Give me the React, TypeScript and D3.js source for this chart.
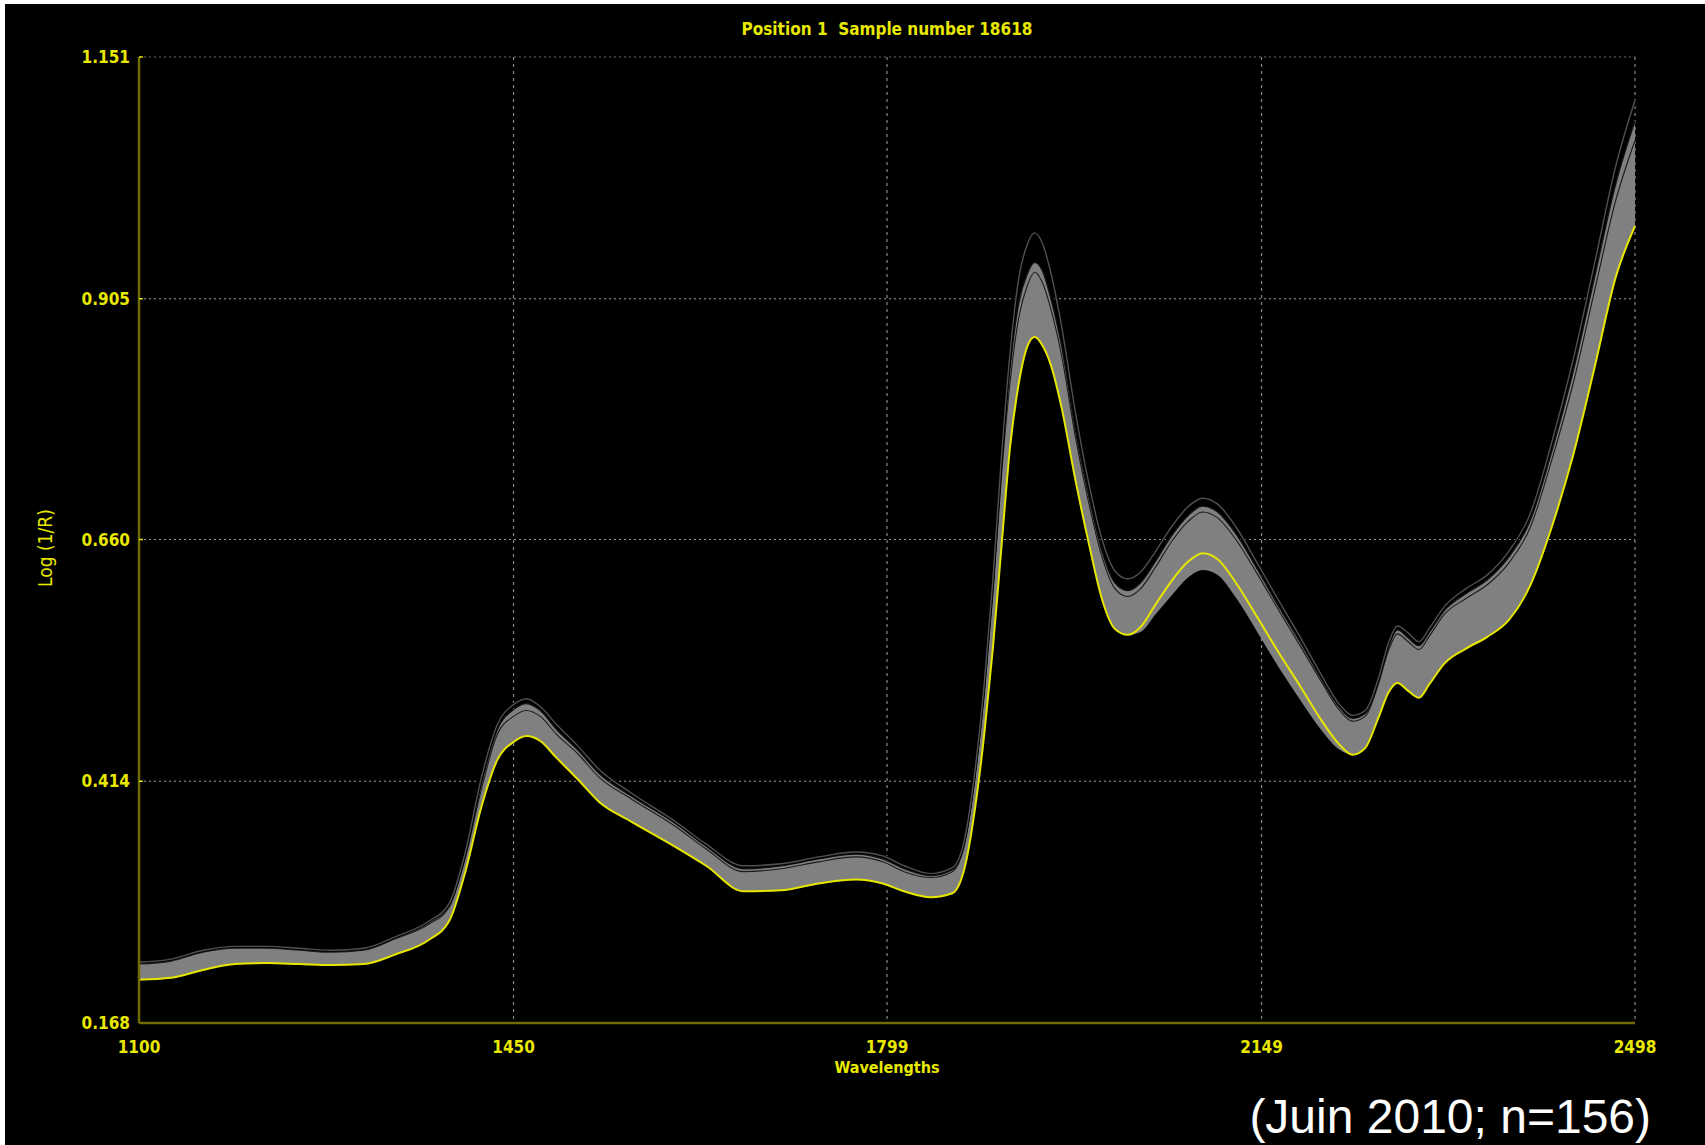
import React, { useEffect, useRef } from 'react';
import * as d3 from 'd3';

// wavelength grid (nm) the curves were read at
const wavelengths = [
  1100, 1130, 1160, 1190, 1220, 1250, 1280, 1310, 1340, 1370,
  1390, 1405, 1420, 1435, 1450, 1462, 1475, 1490, 1510, 1530,
  1560, 1600, 1630, 1665, 1700, 1735, 1770, 1795, 1815, 1840,
  1860, 1872, 1882, 1890, 1898, 1906, 1914, 1922, 1930, 1937,
  1944, 1952, 1962, 1975, 1988, 2000, 2012, 2024, 2036, 2050,
  2065, 2080, 2094, 2108, 2125, 2145, 2165, 2185, 2205, 2222,
  2234, 2246, 2258, 2268, 2276, 2286, 2296, 2306, 2320, 2340,
  2360, 2380, 2400, 2420, 2440, 2460, 2480, 2498,
];

// highlighted spectrum (sample 18618, yellow)
const sample18618 = [
  0.212, 0.214, 0.222, 0.228, 0.229, 0.228, 0.227, 0.228, 0.238, 0.252,
  0.272, 0.322, 0.388, 0.436, 0.454, 0.460, 0.455, 0.438, 0.416, 0.393,
  0.373, 0.348, 0.328, 0.302, 0.303, 0.310, 0.314, 0.310, 0.302, 0.296,
  0.300, 0.328, 0.392, 0.463, 0.550, 0.653, 0.754, 0.818, 0.856, 0.866,
  0.858, 0.838, 0.795, 0.721, 0.654, 0.599, 0.569, 0.563, 0.571, 0.594,
  0.618, 0.637, 0.646, 0.640, 0.616, 0.581, 0.545, 0.511, 0.476, 0.451,
  0.441, 0.448, 0.478, 0.505, 0.514, 0.506, 0.499, 0.513, 0.534, 0.549,
  0.561, 0.578, 0.613, 0.672, 0.745, 0.834, 0.927, 0.979,
];

// lower edge of the 156 spectra band
const bandLow = [
  0.212, 0.214, 0.222, 0.228, 0.229, 0.228, 0.227, 0.228, 0.238, 0.252,
  0.272, 0.322, 0.388, 0.436, 0.454, 0.460, 0.455, 0.438, 0.416, 0.393,
  0.373, 0.348, 0.328, 0.302, 0.303, 0.310, 0.314, 0.310, 0.302, 0.296,
  0.300, 0.328, 0.392, 0.463, 0.550, 0.653, 0.754, 0.818, 0.856, 0.866,
  0.858, 0.838, 0.795, 0.721, 0.654, 0.599, 0.569, 0.563, 0.566, 0.584,
  0.603, 0.621, 0.629, 0.624, 0.601, 0.566, 0.530, 0.497, 0.466, 0.446,
  0.441, 0.448, 0.478, 0.505, 0.514, 0.506, 0.499, 0.513, 0.534, 0.549,
  0.561, 0.578, 0.613, 0.672, 0.745, 0.834, 0.927, 0.979,
];

// upper edge of the dense part of the band
const bandHigh = [
  0.228, 0.231, 0.240, 0.244, 0.244, 0.242, 0.240, 0.242, 0.254, 0.268,
  0.286, 0.336, 0.406, 0.462, 0.480, 0.486, 0.480, 0.462, 0.442, 0.418,
  0.396, 0.369, 0.345, 0.322, 0.325, 0.332, 0.337, 0.332, 0.322, 0.316,
  0.322, 0.352, 0.425, 0.505, 0.605, 0.725, 0.820, 0.885, 0.918, 0.932,
  0.922, 0.895, 0.848, 0.765, 0.695, 0.642, 0.610, 0.602, 0.610, 0.632,
  0.658, 0.678, 0.688, 0.682, 0.660, 0.625, 0.588, 0.552, 0.515, 0.486,
  0.475, 0.480, 0.512, 0.548, 0.564, 0.556, 0.548, 0.562, 0.584, 0.600,
  0.614, 0.636, 0.672, 0.740, 0.818, 0.912, 1.005, 1.066,
];

// the two spectra that stand out above the band
const outlierA = [
  0.230, 0.233, 0.242, 0.246, 0.246, 0.244, 0.242, 0.244, 0.256, 0.271,
  0.290, 0.342, 0.418, 0.472, 0.492, 0.498, 0.490, 0.472, 0.450, 0.426,
  0.402, 0.374, 0.350, 0.328, 0.330, 0.337, 0.342, 0.338, 0.328, 0.320,
  0.326, 0.358, 0.432, 0.515, 0.620, 0.745, 0.850, 0.925, 0.960, 0.972,
  0.962, 0.932, 0.878, 0.790, 0.715, 0.660, 0.628, 0.620, 0.627, 0.648,
  0.673, 0.693, 0.702, 0.696, 0.673, 0.636, 0.598, 0.561, 0.522, 0.492,
  0.481, 0.486, 0.518, 0.556, 0.572, 0.565, 0.556, 0.570, 0.592, 0.610,
  0.624, 0.648, 0.686, 0.758, 0.842, 0.940, 1.040, 1.107,
];

const outlierB = [
  0.229, 0.232, 0.241, 0.245, 0.245, 0.243, 0.241, 0.243, 0.255, 0.270,
  0.288, 0.339, 0.412, 0.467, 0.487, 0.493, 0.486, 0.467, 0.446, 0.422,
  0.399, 0.372, 0.348, 0.325, 0.328, 0.335, 0.340, 0.335, 0.325, 0.318,
  0.324, 0.355, 0.428, 0.510, 0.612, 0.735, 0.835, 0.900, 0.930, 0.942,
  0.934, 0.906, 0.858, 0.772, 0.702, 0.648, 0.616, 0.608, 0.616, 0.638,
  0.664, 0.684, 0.694, 0.688, 0.666, 0.630, 0.592, 0.556, 0.518, 0.489,
  0.478, 0.483, 0.515, 0.552, 0.568, 0.560, 0.552, 0.566, 0.588, 0.605,
  0.619, 0.642, 0.679, 0.749, 0.830, 0.926, 1.022, 1.086,
];

const xTicks = [1100, 1450, 1799, 2149, 2498];
const yTicks = [0.168, 0.414, 0.66, 0.905, 1.151];
const yTickLabels = ['0.168', '0.414', '0.660', '0.905', '1.151'];

const W = 1705;
const H = 1145;
const pixelFont = '"DejaVu Sans Condensed", "DejaVu Sans", sans-serif';

export default function App() {
  const svgRef = useRef<SVGSVGElement>(null);

  useEffect(() => {
    if (!svgRef.current) return;
    const svg = d3.select(svgRef.current);
    svg.selectAll('*').remove();

    const margin = { top: 57, right: 70, bottom: 122, left: 139 };
    const width = W - margin.left - margin.right;
    const height = H - margin.top - margin.bottom;

    // white strip on top/left, black canvas
    svg.append('rect').attr('width', W).attr('height', H).attr('fill', '#ffffff');
    svg.append('rect').attr('x', 5).attr('y', 4).attr('width', W - 5).attr('height', H - 4).attr('fill', '#000000');

    const x = d3.scaleLinear().domain([1100, 2498]).range([0, width]);
    const y = d3.scaleLinear().domain([0.168, 1.151]).range([height, 0]);

    const g = svg.append('g').attr('transform', `translate(${margin.left},${margin.top})`);

    // grid
    g.selectAll('.hgrid')
      .data(yTicks.slice(1))
      .enter().append('line')
      .attr('x1', 0).attr('x2', width)
      .attr('y1', d => y(d)).attr('y2', d => y(d))
      .attr('stroke', (d, i) => (i === 3 ? '#6a6a6a' : '#9a9a9a'))
      .attr('stroke-width', 1.2)
      .attr('stroke-dasharray', '2,3');

    g.selectAll('.vgrid')
      .data(xTicks.slice(1))
      .enter().append('line')
      .attr('x1', d => x(d)).attr('x2', d => x(d))
      .attr('y1', 0).attr('y2', height)
      .attr('stroke', '#8a8a8a')
      .attr('stroke-width', 1.2)
      .attr('stroke-dasharray', '3,4');

    const idx = d3.range(wavelengths.length);
    const line = (vals: number[]) =>
      d3.line<number>()
        .x(i => x(wavelengths[i]))
        .y(i => y(vals[i]))
        .curve(d3.curveMonotoneX)(idx);

    const area = d3.area<number>()
      .x(i => x(wavelengths[i]))
      .y0(i => y(bandLow[i]))
      .y1(i => y(outlierB[i]))
      .curve(d3.curveMonotoneX);

    g.append('path').attr('d', area(idx)).attr('fill', '#808080');

    // dark outlines of the individual spectra near the top of the band
    g.append('path').attr('d', line(bandHigh)).attr('fill', 'none')
      .attr('stroke', '#1a1a1a').attr('stroke-width', 1.1);
    g.append('path').attr('d', line(outlierB)).attr('fill', 'none')
      .attr('stroke', '#111').attr('stroke-width', 1.4);

    // the topmost spectrum, separated from the band
    g.append('path').attr('d', line(outlierA)).attr('fill', 'none')
      .attr('stroke', '#000').attr('stroke-width', 3);
    g.append('path').attr('d', line(outlierA)).attr('fill', 'none')
      .attr('stroke', '#505050').attr('stroke-width', 1.4);

    g.append('path').attr('d', line(sample18618)).attr('fill', 'none')
      .attr('stroke', '#e6e600').attr('stroke-width', 2);

    // axes
    const axisColor = '#6f6c00';
    g.append('line').attr('x1', 0).attr('x2', 0).attr('y1', 0).attr('y2', height)
      .attr('stroke', axisColor).attr('stroke-width', 2.5);
    g.append('line').attr('x1', 0).attr('x2', width).attr('y1', height).attr('y2', height)
      .attr('stroke', axisColor).attr('stroke-width', 2.5);

    g.selectAll('.ytick')
      .data(yTicks.slice(1))
      .enter().append('line')
      .attr('x1', 0).attr('x2', 4)
      .attr('y1', d => y(d)).attr('y2', d => y(d))
      .attr('stroke', '#dede00').attr('stroke-width', 1.5);

    g.selectAll('.ylab')
      .data(yTicks)
      .enter().append('text')
      .attr('x', -9)
      .attr('y', d => y(d))
      .attr('dy', '0.36em')
      .attr('text-anchor', 'end')
      .attr('fill', '#e8e800')
      .style('font-family', pixelFont)
      .style('font-weight', 'bold')
      .style('font-size', '17px')
      .text((d, i) => yTickLabels[i]);

    g.selectAll('.xlab')
      .data(xTicks)
      .enter().append('text')
      .attr('x', d => x(d))
      .attr('y', height + 30)
      .attr('text-anchor', 'middle')
      .attr('fill', '#e8e800')
      .style('font-family', pixelFont)
      .style('font-weight', 'bold')
      .style('font-size', '17px')
      .text(d => String(d));

    g.append('text')
      .attr('x', width / 2)
      .attr('y', height + 50)
      .attr('text-anchor', 'middle')
      .attr('fill', '#e8e800')
      .style('font-family', pixelFont)
      .style('font-weight', 'bold')
      .style('font-size', '16px')
      .text('Wavelengths');

    g.append('text')
      .attr('transform', `translate(${45 - margin.left},${548 - margin.top}) rotate(-90)`)
      .attr('text-anchor', 'middle')
      .attr('dy', '0.35em')
      .attr('fill', '#e8e800')
      .style('font-family', pixelFont)
      .style('font-size', '19px')
      .text('Log (1/R)');

    svg.append('text')
      .attr('x', margin.left + width / 2)
      .attr('y', 35)
      .attr('text-anchor', 'middle')
      .attr('fill', '#e8e800')
      .attr('xml:space', 'preserve')
      .style('white-space', 'pre')
      .style('font-family', pixelFont)
      .style('font-weight', 'bold')
      .style('font-size', '17px')
      .text('Position 1  Sample number 18618');

    svg.append('text')
      .attr('x', 1651)
      .attr('y', 1133)
      .attr('text-anchor', 'end')
      .attr('fill', '#ffffff')
      .style('font-family', '"Liberation Sans", Arial, sans-serif')
      .style('font-size', '48px')
      .text('(Juin 2010; n=156)');
  }, []);

  return (
    <svg
      ref={svgRef}
      width={W}
      height={H}
      style={{ position: 'absolute', left: 0, top: 0, display: 'block' }}
    />
  );
}
